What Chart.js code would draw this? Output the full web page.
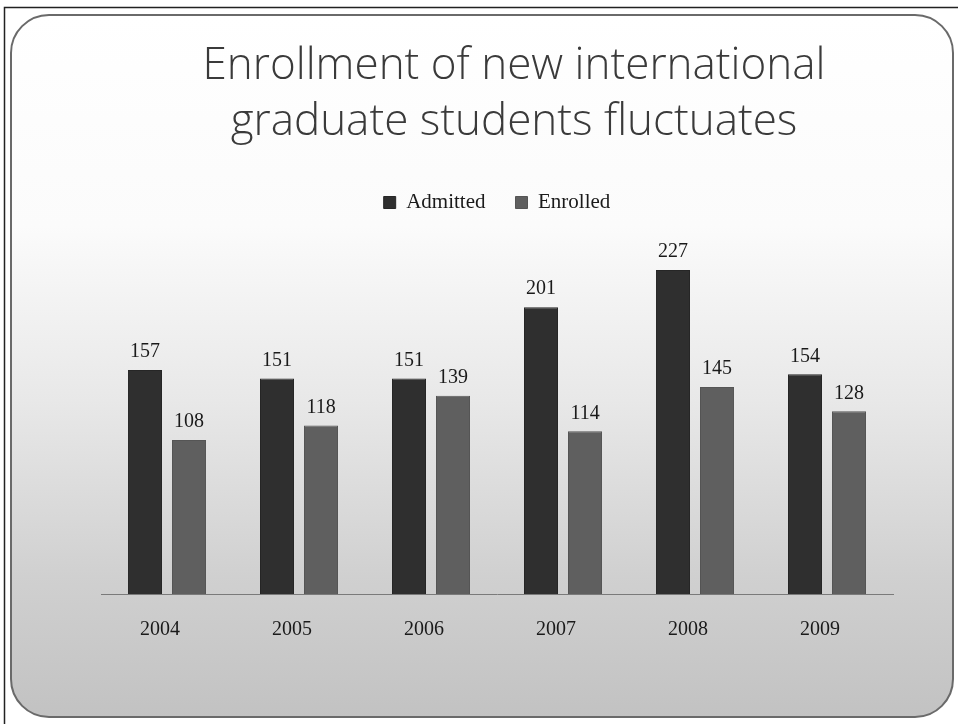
<!DOCTYPE html>
<html>
<head>
<meta charset="utf-8">
<script src="https://cdn.jsdelivr.net/npm/chart.js@4"></script>
<style>
  html,body{margin:0;padding:0;background:#fff;}
  #wrap{width:958px;height:724px;}
</style>
</head>
<body>
<div id="wrap"><canvas id="myChart" width="958" height="724"></canvas></div>
<script>
// datos del grafico
const years=['2004','2005','2006','2007','2008','2009'];
const admitted=[157,151,151,201,227,154];
const enrolled=[108,118,139,114,145,128];
const titleLines=['Enrollment of new international','graduate students fluctuates'];

const serif="'Liberation Serif', 'DejaVu Serif', serif";

// fondo tipo diapositiva + titulo
const slideBg={
    id:'slideBg',
    beforeDraw(chart){
        const ctx=chart.ctx;
        const w=chart.width, h=chart.height;
        ctx.save();
        ctx.fillStyle='#fff';
        ctx.fillRect(0,0,w,h);
        // marco exterior
        ctx.strokeStyle='#222';
        ctx.lineWidth=1.5;
        ctx.beginPath();
        ctx.moveTo(4.5,h);
        ctx.lineTo(4.5,7.5);
        ctx.lineTo(w,7.5);
        ctx.stroke();
        // rectangulo redondeado con degradado
        const x0=11,y0=15,x1=w-5,y1=h-7,r=38;
        const grad=ctx.createLinearGradient(0,y0,0,y1);
        grad.addColorStop(0,'#ffffff');
        grad.addColorStop(0.3,'#fbfbfb');
        grad.addColorStop(0.55,'#e8e8e8');
        grad.addColorStop(0.8,'#d0d0d0');
        grad.addColorStop(1,'#c2c2c2');
        ctx.beginPath();
        ctx.roundRect(x0,y0,x1-x0,y1-y0,r);
        ctx.fillStyle=grad;
        ctx.fill();
        ctx.strokeStyle='#6a6a6a';
        ctx.lineWidth=2;
        ctx.stroke();

        // titulo en dos lineas
        ctx.fillStyle='#3a3a3a';
        ctx.font="300 44px 'Open Sans', Lato, sans-serif";
        ctx.textAlign='center';
        ctx.textBaseline='alphabetic';
        ctx.fillText(titleLines[0],514,79);
        ctx.fillText(titleLines[1],514,135);
        ctx.restore();
    }
};

// etiquetas sobre las barras
const barLabels={
    id:'barLabels',
    afterDatasetsDraw(chart){
        const ctx=chart.ctx;
        ctx.save();
        ctx.font='20px '+serif;
        ctx.fillStyle='#1a1a1a';
        ctx.textAlign='center';
        ctx.textBaseline='bottom';
        chart.data.datasets.forEach((ds,i)=>{
            const meta=chart.getDatasetMeta(i);
            meta.data.forEach((bar,j)=>{
                ctx.fillText(ds.data[j],bar.x,bar.y-8);
            });
        });
        ctx.restore();
    }
};

const data={
    labels:years,
    datasets:[
        {
            label:'Admitted',
            data:admitted,
            backgroundColor:'#2f2f2f',
            borderColor:'#262626',
            borderWidth:1,
            categoryPercentage:0.667,
            barPercentage:0.773
        },
        {
            label:'Enrolled',
            data:enrolled,
            backgroundColor:'#5f5f5f',
            borderColor:'#555',
            borderWidth:1,
            categoryPercentage:0.667,
            barPercentage:0.773
        }
    ]
};

const config={
    type:'bar',
    data:data,
    plugins:[slideBg,barLabels],
    options:{
        responsive:false,
        animation:false,
        devicePixelRatio:1,
        layout:{padding:{top:162,left:101,right:65,bottom:58}},
        plugins:{
            title:{display:false},
            legend:{
                display:true,
                labels:{
                    boxWidth:12,
                    boxHeight:12,
                    padding:30,
                    color:'#1a1a1a',
                    font:{family:serif,size:21}
                }
            },
            tooltip:{enabled:false}
        },
        scales:{
            x:{
                grid:{display:false,drawTicks:false},
                border:{display:true,color:'#7a7a7a',width:1},
                ticks:{color:'#1a1a1a',font:{family:serif,size:20},padding:24,labelOffset:-7}
            },
            y:{
                display:false,
                min:0,
                max:260
            }
        }
    }
};

const chart=new Chart(document.getElementById('myChart'),config);
</script>
</body>
</html>
